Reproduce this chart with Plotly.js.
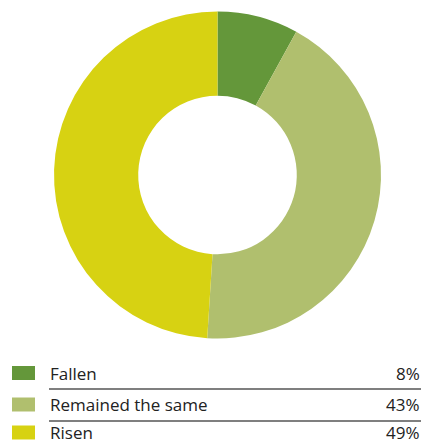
<!DOCTYPE html>
<html>
<head>
<meta charset="utf-8">
<script src="https://cdn.plot.ly/plotly-3.0.1.min.js"></script>
<style>html,body{margin:0;padding:0;background:#fff;}#chart{width:422px;height:444px;}</style>
</head>
<body>
<div id="chart"></div>
<script>
var categories = ["Fallen", "Remained the same", "Risen"];
var values = [8, 43, 49];
var colors = ["#64973a", "#b0bf6e", "#d7d212"];

var W = 422, H = 444;
function px(x){return x / W;}
function py(y){return 1 - y / H;}

var trace = {
  type: "pie",
  labels: categories,
  values: values,
  marker: {colors: colors, line: {width: 0}},
  hole: 0.485,
  sort: false,
  direction: "clockwise",
  rotation: 0,
  textinfo: "none",
  hoverinfo: "label+percent",
  showlegend: false,
  domain: {x: [px(54), px(381)], y: [py(338.5), py(11.5)]}
};

var rowY = [373, 404.5, 432.5];
var lineY = [389, 421];
var shapes = [], annotations = [];
var font = {family: "Open Sans, Noto Sans, sans-serif", size: 17, color: "#222"};
categories.forEach(function(c, i){
  var y = rowY[i];
  shapes.push({type: "rect", xref: "paper", yref: "paper",
    x0: px(12), x1: px(35), y0: py(y + 7), y1: py(y - 7),
    fillcolor: colors[i], line: {width: 0}});
  annotations.push({xref: "paper", yref: "paper", x: px(49), y: py(y),
    xanchor: "left", yanchor: "middle", text: c, showarrow: false, font: font, borderpad: 0});
  annotations.push({xref: "paper", yref: "paper", x: px(421), y: py(y),
    xanchor: "right", yanchor: "middle", text: values[i] + "%", showarrow: false, font: font, borderpad: 0});
  if (i < categories.length - 1) {
    shapes.push({type: "line", xref: "paper", yref: "paper",
      x0: px(49), x1: px(421), y0: py(lineY[i]), y1: py(lineY[i]),
      line: {color: "#555", width: 1.5}});
  }
});

var layout = {
  width: W, height: H,
  margin: {l: 0, r: 0, t: 0, b: 0},
  paper_bgcolor: "#fff",
  showlegend: false,
  shapes: shapes,
  annotations: annotations
};

Plotly.newPlot("chart", [trace], layout, {displayModeBar: false, staticPlot: true});
</script>
</body>
</html>
